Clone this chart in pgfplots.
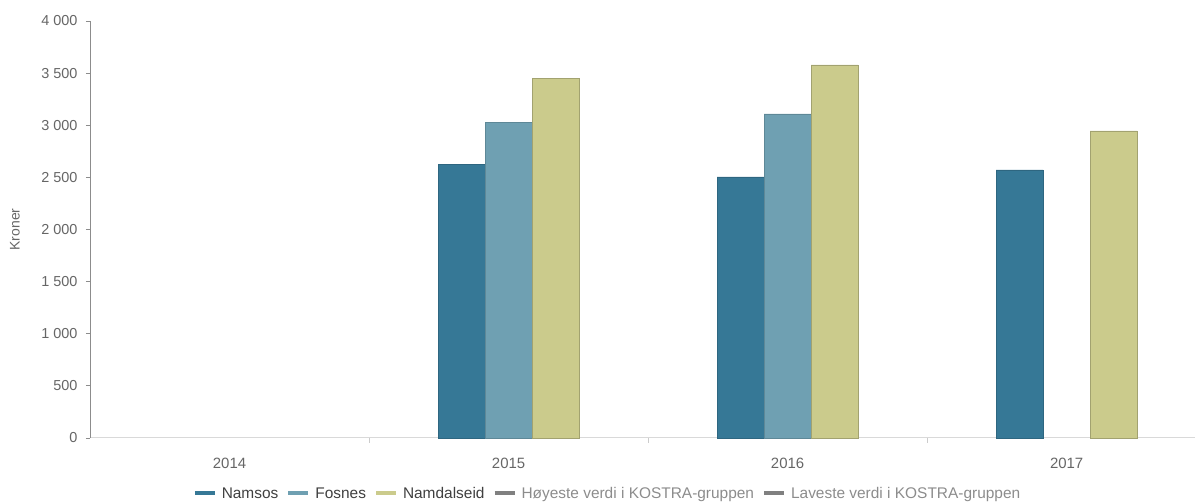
\documentclass[border=0pt]{standalone}
\usepackage{pgfplots}
\pgfplotsset{compat=1.18}
\usepackage{fontspec}
\setmainfont{Liberation Sans}
\definecolor{namsos}{HTML}{367896}
\definecolor{fosnes}{HTML}{6FA0B2}
\definecolor{namdal}{HTML}{CBCB8C}
\definecolor{txt}{HTML}{666666}
\begin{document}
\begin{tikzpicture}
\begin{axis}[
  name=ax,
  scale only axis,
  width=1105bp, height=417bp,
  xmin=-0.5, xmax=3.46,
  ymin=0, ymax=4000,
  ybar, bar width=47bp,
  axis x line*=bottom, axis y line*=left,
  x axis line style={color=black!15, line width=1pt},
  y axis line style={color=black!45, line width=1pt},
  xtick={0,1,2,3}, xticklabels={2014,2015,2016,2017},
  major x tick style={draw=none},
  minor xtick={0.5,1.5,2.5},
  minor x tick style={color=black!20, line width=0.8pt},
  minor tick length=5bp,
  tick align=outside,
  ytick={0,500,...,4000},
  major y tick style={color=black!45, line width=0.8pt},
  major tick length=4bp,
  yticklabel style={font=\fontsize{14.5}{16}\selectfont, text=txt, xshift=-5bp},
  xticklabel style={font=\fontsize{15}{17}\selectfont, text=txt, yshift=-13bp},
  /pgf/number format/.cd, 1000 sep={\ }, assume math mode=true,
  /pgfplots/.cd,
  ylabel={Kroner},
  ylabel style={font=\fontsize{14}{16}\selectfont, text=txt, at={(rel axis cs:0,0.5)}, anchor=center, yshift=75bp},
  legend style={at={(0.5,-64bp)}, anchor=south, xshift=-35bp, yshift=-2bp, draw=none, fill=none,
    font=\fontsize{15.5}{17}\selectfont, legend columns=-1,
    /tikz/every even column/.append style={column sep=6bp},
    /tikz/every odd column/.append style={column sep=3bp}},
  legend cell align=left,
  legend image code/.code={\draw[line width=4bp] (0bp,0bp) -- (20bp,0bp);},
  clip=false,
]
\addplot[fill=namsos, draw=namsos!85!black, bar shift=-47bp, forget plot] coordinates {(1,2628) (2,2504) (3,2571)};
\addplot[fill=fosnes, draw=fosnes!85!black, bar shift=0bp, forget plot] coordinates {(1,3031) (2,3108)};
\addplot[fill=namdal, draw=namdal!80!black, bar shift=47bp, forget plot] coordinates {(1,3453) (2,3578) (3,2945)};
\addlegendimage{color=namsos}\addlegendentry{\textcolor{black!75}{Namsos}}
\addlegendimage{color=fosnes}\addlegendentry{\textcolor{black!75}{Fosnes}}
\addlegendimage{color=namdal}\addlegendentry{\textcolor{black!75}{Namdalseid}}
\addlegendimage{color=black!50}\addlegendentry{\textcolor{black!45}{Høyeste verdi i KOSTRA-gruppen}}
\addlegendimage{color=black!50}\addlegendentry{\textcolor{black!45}{Laveste verdi i KOSTRA-gruppen}}
\end{axis}
\pgfresetboundingbox
\path ([xshift=-90bp,yshift=-64bp]ax.south west) rectangle ([yshift=21bp]ax.north east);
\end{tikzpicture}
\end{document}
